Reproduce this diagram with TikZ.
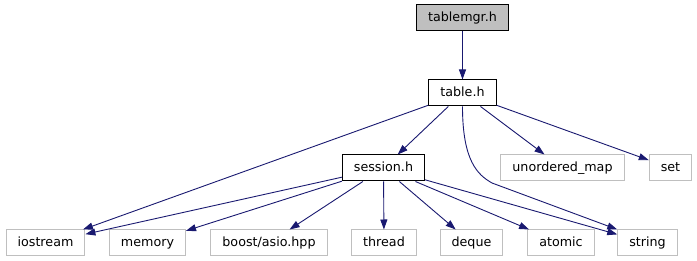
\documentclass[tikz,border=0pt]{standalone}
\usepackage{fontspec}
\setmainfont{DejaVu Sans}
\usetikzlibrary{arrows.meta}

\definecolor{edgeblue}{HTML}{191970}
\definecolor{extgray}{HTML}{BFBFBF}

\tikzset{
    file/.style={draw, line width=1pt, inner xsep=11.5pt, minimum height=26pt,
        text height=9.5pt, text depth=3pt, font=\fontsize{12.7}{15}\selectfont},
    extfile/.style={file, draw=extgray},
    edge/.style={->, draw=edgeblue, line width=0.9pt},
}

\begin{document}
\begin{tikzpicture}[x=1pt, y=-1pt, >={Triangle[length=10pt, width=7pt]}]
    \useasboundingbox (0, 0) rectangle (697, 261);

    % headers of the project
    \node[file, fill=extgray] (tablemgr) at (462.5, 18) {tablemgr.h};
    \node[file] (table) at (462.5, 93) {table.h};
    \node[file] (session) at (383.5, 168) {session.h};

    % system headers
    \node[extfile] (umap) at (562.5, 168) {unordered\_map};
    \node[extfile] (set) at (670.5, 168) {set};
    \node[extfile] (iostream) at (45.5, 243) {iostream};
    \node[extfile] (memory) at (147.5, 243) {memory};
    \node[extfile] (asio) at (269, 243) {boost/asio.hpp};
    \node[extfile] (thread) at (384, 243) {thread};
    \node[extfile] (deque) at (471.5, 243) {deque};
    \node[extfile] (atomic) at (561, 243) {atomic};
    \node[extfile] (string) at (647.5, 243) {string};

    \draw[edge] (tablemgr) -- (table);

    \draw[edge] (table) -- (iostream);
    \draw[edge] (table) -- (session);
    \draw[edge] (table) -- (umap);
    \draw[edge] (table) -- (set);
    \draw[edge] (table.south) .. controls +(0, 55) and +(-14, -8) .. (492, 183) -- (string.north west);

    \draw[edge] (session) -- (iostream);
    \draw[edge] (session) -- (memory);
    \draw[edge] (session) -- (asio);
    \draw[edge] (session) -- (thread);
    \draw[edge] (session) -- (deque);
    \draw[edge] (session) -- (atomic);
    \draw[edge] (session) -- (string);
\end{tikzpicture}
\end{document}
